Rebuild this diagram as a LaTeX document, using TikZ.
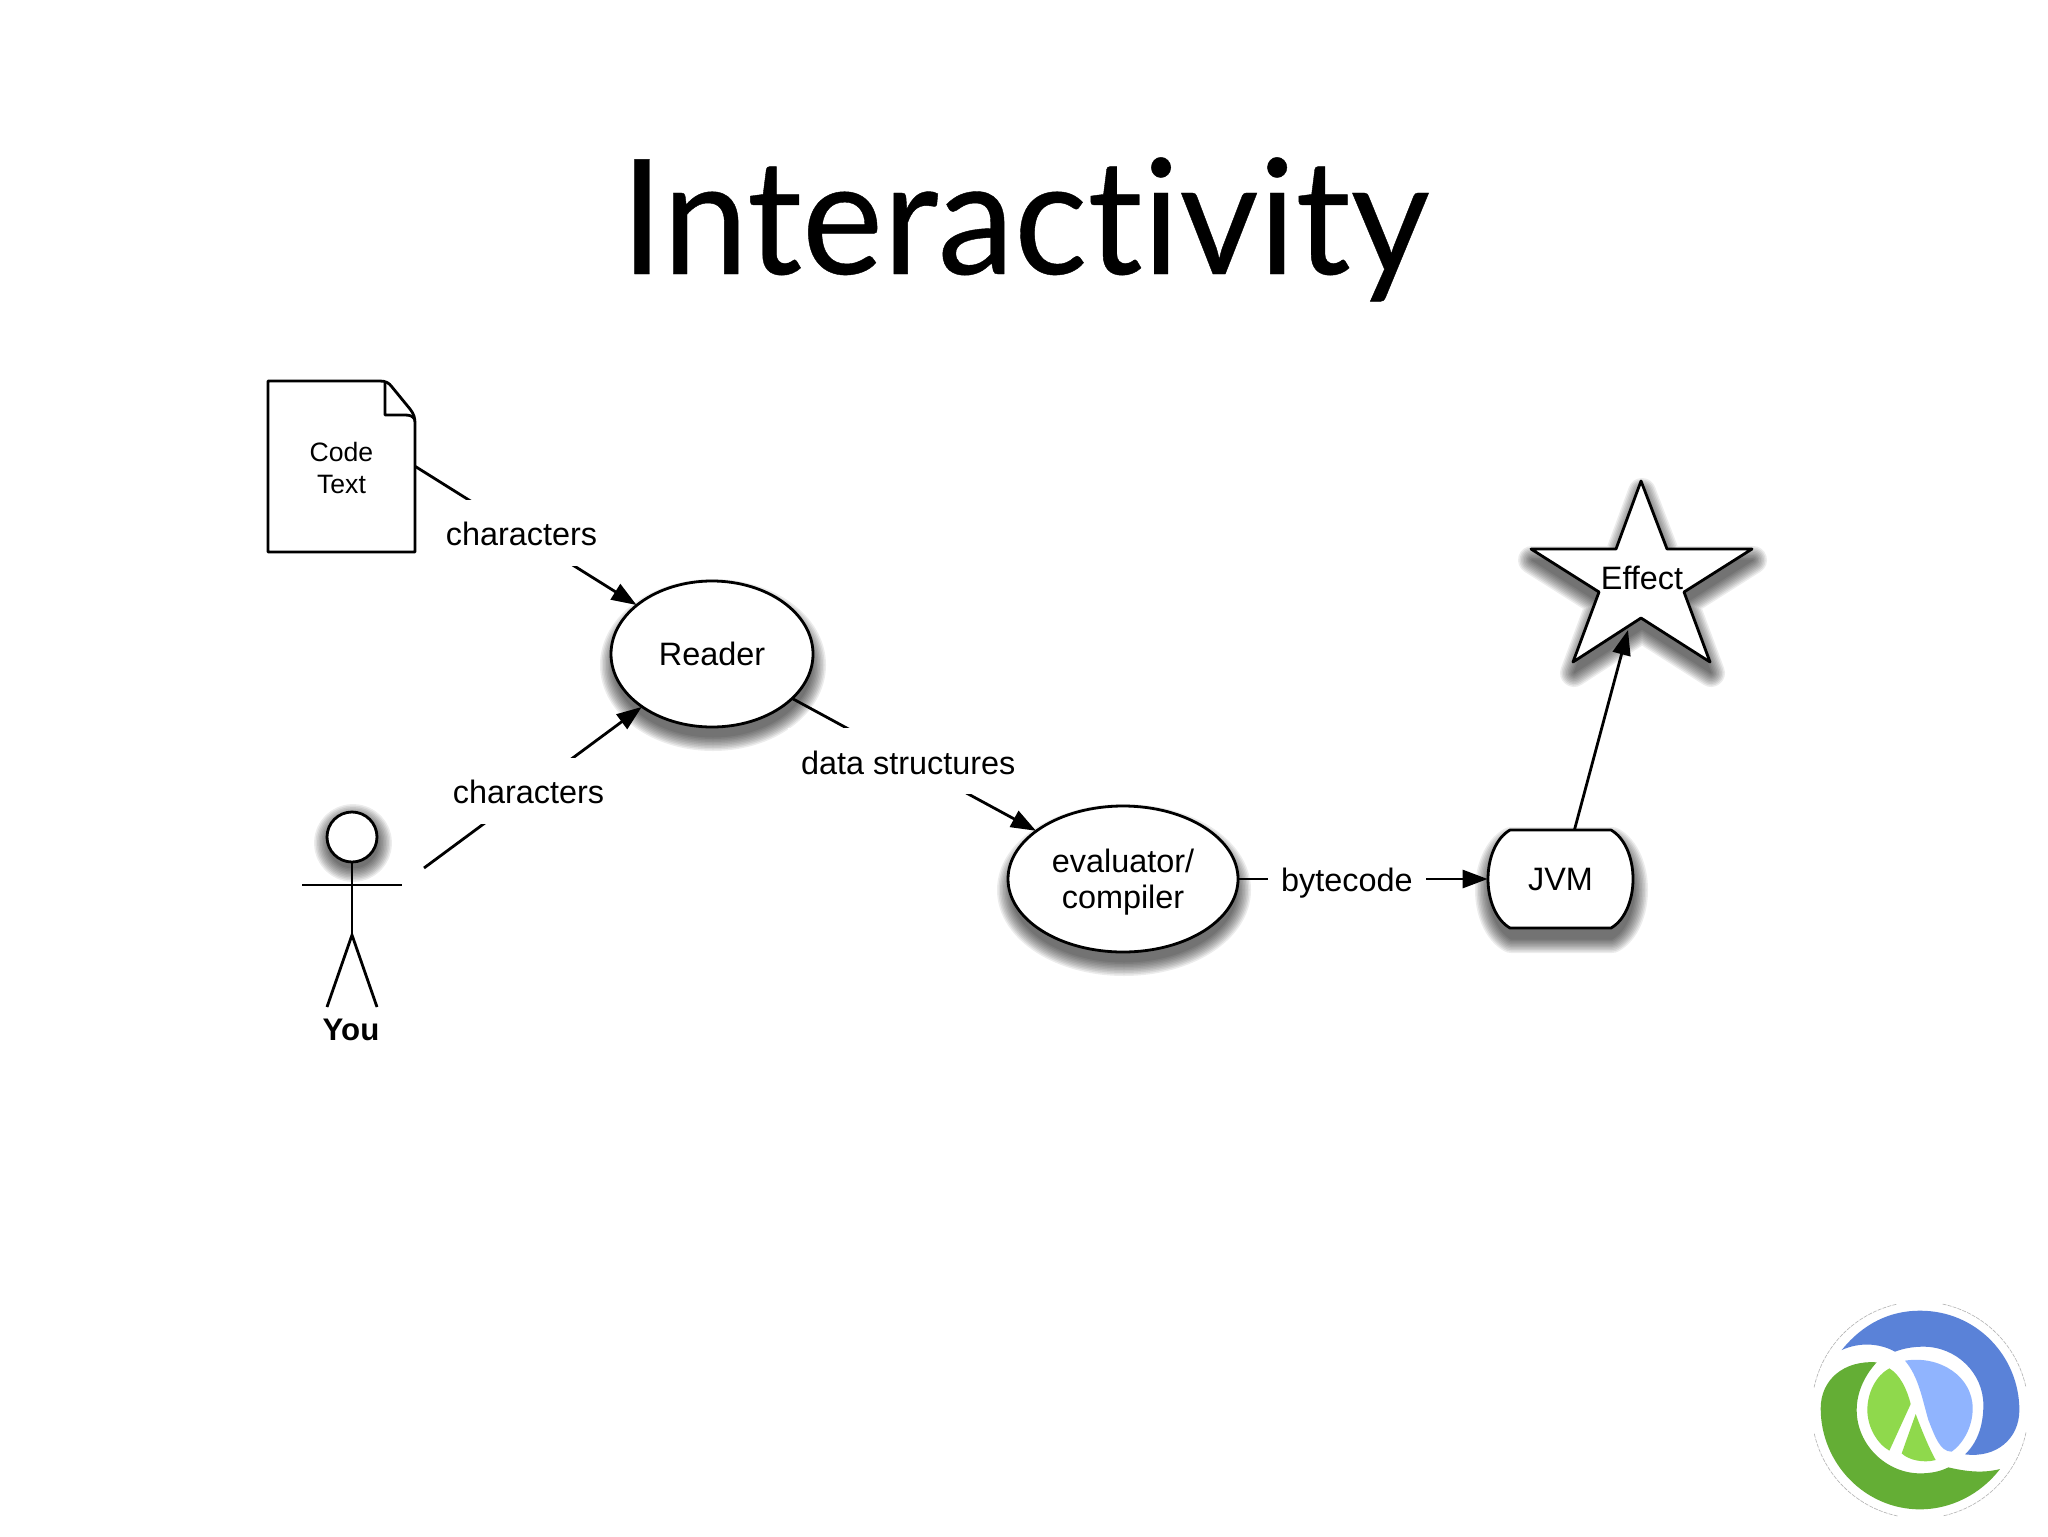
\documentclass[tikz,border=0pt]{standalone}
\usepackage{fontspec}
\setmainfont{Liberation Sans}
\newfontfamily\titlefont[Ligatures=NoCommon,FakeBold=0.25]{Lato}
\usetikzlibrary{arrows.meta,shapes.geometric}
\definecolor{cljblue}{HTML}{5A82D8}
\definecolor{cljgreen}{HTML}{64AE35}
\definecolor{cljlgreen}{HTML}{8FD94C}
\definecolor{cljlblue}{HTML}{90B4FE}
\newcommand{\softshadow}[2][11]{\foreach \w in {28,25,22,19,16,13,10,7,4,1}{\begin{scope}[transparency group,opacity=.075]\draw[black,fill=black,line width=\w*0.5pt,line join=round,shift={(1,#1)}] #2;\end{scope}}}
\tikzset{
  x=.5pt,y=-.5pt,
  lw/.style={line width=1.4pt,draw=black},
  shapefill/.style={lw,fill=white,line join=round},
  txt/.style={font=\fontsize{16.2}{18}\selectfont,align=center,inner sep=0pt},
  lab/.style={fill=white,font=\fontsize{16.2}{18}\selectfont,inner xsep=6.5pt,inner ysep=0pt,minimum height=33pt,text height=15.6pt,text depth=3pt},
  conn/.style={lw,-{Triangle[length=12.5pt,width=9pt]}},
  ell/.style={ellipse,inner sep=0pt,align=center,font=\fontsize{16.2}{18}\selectfont},
}
\newcommand{\readerpath}{(712,654) ellipse [x radius=99,y radius=72]}
\newcommand{\evalpath}{(1123,879) ellipse [x radius=113,y radius=72]}
\newcommand{\jvmpath}{(1510,830) -- (1611,830) .. controls (1625,838) and (1633,858) .. (1633,879) .. controls (1633,900) and (1625,920) .. (1611,928) -- (1510,928) .. controls (1496,920) and (1488,900) .. (1488,879) .. controls (1488,858) and (1496,838) .. (1510,830) -- cycle}
\newcommand{\starpath}{(1641,481) -- (1667,549) -- (1752,549) -- (1684,592) -- (1710,662) -- (1641,618) -- (1573,662) -- (1599,592) -- (1531,549) -- (1616,549) -- cycle}
\newcommand{\headpath}{(352,837) circle [radius=25]}
\begin{document}
\begin{tikzpicture}
\useasboundingbox (0,0) rectangle (2048,1536);
\fill[white] (0,0) rectangle (2048,1536);
% title
\node[font=\titlefont\fontsize{80}{90}\selectfont,inner sep=0pt,anchor=base] (title) at (1025,274) {\scalebox{.96}[1]{Interactivity}};
% shadows
\softshadow{\readerpath}
\softshadow{\evalpath}
\softshadow{\jvmpath}
\softshadow{\starpath}
\softshadow[6]{\headpath}
% document
\draw[shapefill] (268,381) -- (380,381) .. controls (386,381) and (389,383) .. (392,387) -- (410,409) .. controls (414,414) and (415,418) .. (415,424) -- (415,552) -- (268,552) -- cycle;
\draw[lw,line join=round] (385,383) -- (385,415) -- (405,415) .. controls (410,415) and (413,416) .. (415,420);
\node[minimum width=73.5pt,minimum height=85.5pt,inner sep=0pt,align=center,font=\fontsize{13.3}{16}\selectfont] (doc) at (341.5,466.5) {\rule{0pt}{11.5pt}Code\\Text};
% ellipses and others
\draw[shapefill] (712,654) ellipse [x radius=101,y radius=73];
\node[ell,minimum width=101pt,minimum height=73pt] (reader) at (712,654) {Reader};
\draw[shapefill] (1123,879) ellipse [x radius=115,y radius=73];
\node[ell,minimum width=115pt,minimum height=73pt] (eval) at (1123,879) {\rule{0pt}{14.6pt}evaluator/\\compiler};
\draw[shapefill] \jvmpath;
\node[txt,minimum width=72.5pt,minimum height=49pt] (jvm) at (1560.5,879) {JVM};
\draw[shapefill,miter limit=10] \starpath;
\node[txt] (effect) at (1642,578) {Effect};
\coordinate (starpt) at (1628,630);
% actor
\draw[shapefill] \headpath;
\node[circle,minimum size=25pt,inner sep=0pt] (head) at (352,837) {};
\coordinate (hip) at (352,935);
\coordinate (arml) at (302,885);
\coordinate (armr) at (402,885);
\coordinate (legl) at (327,1007);
\coordinate (legr) at (377,1007);
\coordinate (actorpt) at (424,868);
\draw[lw] (head.south) -- (hip);
\draw[lw] (arml) -- (armr);
\draw[lw] (legl) -- (hip) -- (legr);
\node[txt,font=\fontsize{15.6}{18}\selectfont\bfseries] (you) at (351,1030) {You};
% connectors
\draw[conn] (doc.east) -- node[lab,pos=.48] (l1) {characters} (reader.147);
\draw[conn] (actorpt) -- node[lab,pos=.48] (l2) {characters} (reader.217);
\draw[conn] (reader.-29) -- node[lab,pos=.475] (l3) {data structures} (eval.151);
\draw[conn] (eval.east) -- node[lab,pos=.435] (l4) {bytecode} (jvm.west);
\draw[conn] ([xshift=7pt]jvm.north) -- (starpt);
% logo
\begin{scope}[shift={(1780,1280)},x=.16667pt,y=-.16667pt]
\foreach \a in {12,102,192,282}{
  \draw[gray!60,line width=.3pt,dash pattern=on 2pt off .6pt] (420,390) ++(\a:325) arc[start angle=\a,end angle=\a+66,radius=325];
}
\fill[cljblue] (185,210) .. controls (250,130) and (330,92) .. (420,92) .. controls (590,92) and (718,230) .. (718,390) .. controls (718,475) and (650,535) .. (555,523) .. controls (590,490) and (610,440) .. (610,375) .. controls (610,280) and (530,200) .. (430,200) .. controls (400,200) and (370,205) .. (345,215) .. controls (300,190) and (240,185) .. (185,210) -- cycle;
\fill[cljgreen] (290,247) .. controls (190,240) and (122,300) .. (122,385) .. controls (122,550) and (255,688) .. (420,688) .. controls (510,688) and (600,645) .. (660,567) .. controls (610,580) and (560,575) .. (505,562) .. controls (480,575) and (450,580) .. (420,580) .. controls (320,580) and (230,495) .. (230,390) .. controls (230,335) and (255,285) .. (290,247) -- cycle;
\fill[cljlblue] (375,242) .. controls (480,225) and (578,290) .. (578,385) .. controls (578,440) and (550,490) .. (515,515) .. controls (480,515) and (465,470) .. (445,420) .. controls (425,350) and (415,290) .. (375,242) -- cycle;
\fill[cljlgreen] (328,265) .. controls (290,285) and (262,335) .. (262,390) .. controls (262,440) and (290,490) .. (328,512) -- (392,372) .. controls (380,325) and (360,285) .. (328,265) -- cycle;
\fill[cljlgreen] (407,402) -- (365,520) .. controls (385,540) and (430,550) .. (467,540) .. controls (445,500) and (425,450) .. (407,402) -- cycle;
\end{scope}
\end{tikzpicture}
\end{document}
